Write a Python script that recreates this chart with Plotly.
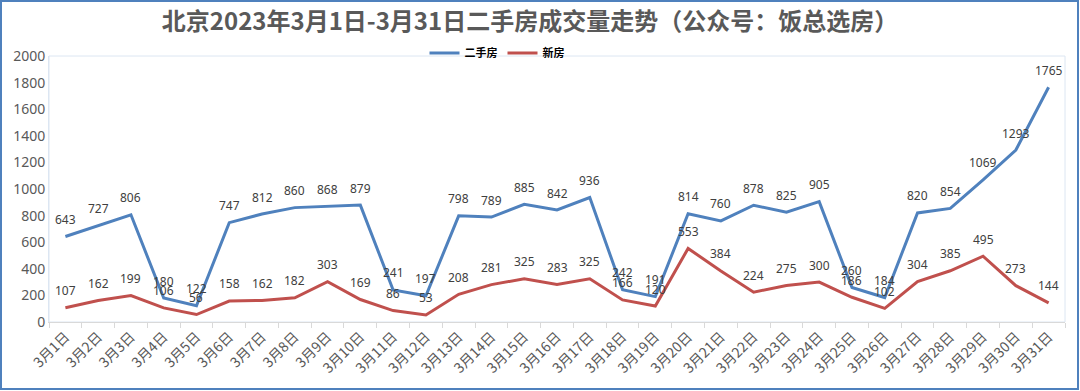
import plotly.graph_objects as go

days = [f"3月{i}日" for i in range(1, 32)]
second_hand = [643, 727, 806, 180, 122, 747, 812, 860, 868, 879, 241, 197, 798, 789, 885,
               842, 936, 242, 191, 814, 760, 878, 825, 905, 260, 184, 820, 854, 1069, 1293, 1765]
new_house = [107, 162, 199, 106, 56, 158, 162, 182, 303, 169, 86, 53, 208, 281, 325,
             283, 325, 166, 120, 553, 384, 224, 275, 300, 186, 102, 304, 385, 495, 273, 144]
y_ticks = [0, 200, 400, 600, 800, 1000, 1200, 1400, 1600, 1800, 2000]

BLUE = "#4f81bd"
RED = "#c0504d"
W, H = 1080, 391
L, R, T, B = 49, 15, 56, 69
CJK = "Noto Sans CJK SC, Noto Sans, sans-serif"

fig = go.Figure()
fig.add_trace(go.Scatter(x=days, y=second_hand, mode="lines", name="<b>二手房</b>",
                         line=dict(color=BLUE, width=3)))
fig.add_trace(go.Scatter(x=days, y=new_house, mode="lines", name="<b>新房</b>",
                         line=dict(color=RED, width=3)))

annotations = []
for series in (second_hand, new_house):
    for d, v in zip(days, series):
        annotations.append(dict(x=d, y=v, text=str(v), showarrow=False, yshift=17,
                                font=dict(size=12, color="#404040", family="Noto Sans, sans-serif")))

pw = W - L - R
ph = H - T - B
def px(x):
    return (x - L) / pw
def py(y):
    return (H - B - y) / ph

shapes = [
    dict(type="rect", xref="paper", yref="paper", x0=px(1), x1=px(W - 2), y0=py(H - 2), y1=py(1),
         line=dict(color=BLUE, width=2), layer="below"),
    dict(type="rect", xref="paper", yref="paper", x0=0, x1=1, y0=0, y1=1,
         line=dict(color="#dce6f2", width=1), layer="below"),
]

fig.update_layout(
    width=W, height=H,
    margin=dict(l=L, r=R, t=T, b=B, autoexpand=False),
    paper_bgcolor="white", plot_bgcolor="white",
    title=dict(text="<b>北京2023年3月1日-3月31日二手房成交量走势（公众号：饭总选房）</b>",
               x=530 / W, xanchor="center", y=1 - 22 / H, yanchor="middle",
               font=dict(size=24, color="#595959", family=CJK)),
    legend=dict(orientation="h", x=px(497), xanchor="center", y=py(53), yanchor="middle",
                font=dict(size=11, color="#000000", family=CJK),
                bgcolor="rgba(0,0,0,0)", itemwidth=30, tracegroupgap=0),
    showlegend=True,
    annotations=annotations,
    shapes=shapes,
    font=dict(family=CJK),
)
fig.update_xaxes(type="category", tickangle=-45, showgrid=False, showline=True,
                 linecolor="#d9d9d9", linewidth=1, ticks="outside", tickson="boundaries",
                 ticklen=5, tickcolor="#d9d9d9", automargin=False,
                 tickfont=dict(size=14, color="#595959", family=CJK),
                 range=[-0.5, 30.5])
fig.update_yaxes(range=[0, 2000], tickvals=y_ticks, showgrid=False, showline=True,
                 linecolor="#dce6f2", linewidth=1, zeroline=False, automargin=False,
                 tickfont=dict(size=14, color="#595959", family="Noto Sans, sans-serif"))

fig.write_html("out.html", config={"displayModeBar": False},
               post_script="document.body.style.margin='0';document.body.style.overflow='hidden';")
